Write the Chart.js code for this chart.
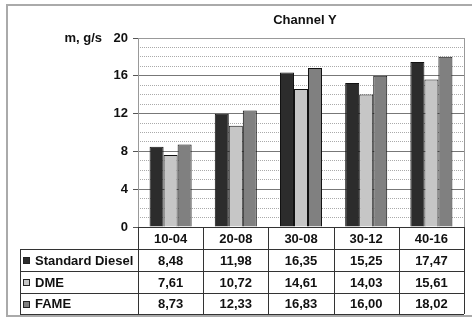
<!DOCTYPE html>
<html>
<head>
<meta charset="utf-8">
<script src="https://cdn.jsdelivr.net/npm/chart.js@4/dist/chart.umd.min.js"></script>
<style>
  html, body { margin: 0; padding: 0; background: #fff; }
</style>
</head>
<body>
<canvas id="chart" width="472" height="320"></canvas>
<script>
// data
const categories = ["10-04", "20-08", "30-08", "30-12", "40-16"];
const seriesNames = ["Standard Diesel", "DME", "FAME"];
const diesel = [8.48, 11.98, 16.35, 15.25, 17.47];
const dme = [7.61, 10.72, 14.61, 14.03, 15.61];
const fame = [8.73, 12.33, 16.83, 16.0, 18.02];
const yMax = 20;
const yStep = 4;

const colors = ["#2c2c2c", "#c6c6c6", "#808080"];
const FONT = "Liberation Sans, Arial, sans-serif";

// title, axis label, frame and data table under the plot
const tablePlugin = {
  id: "dataTable",
  afterDraw(chart) {
    const ctx = chart.ctx;
    const area = chart.chartArea;
    const xs = chart.scales.x;
    const colW = (area.right - area.left) / categories.length;
    const rows = [area.bottom, 249, 271, 293, 314];
    const tableLeft = 20;
    const series = [diesel, dme, fame];

    ctx.save();
    // outer frame
    ctx.strokeStyle = "#aaa";
    ctx.lineWidth = 2;
    ctx.strokeRect(7, 5, 470, 311);

    // plot border
    ctx.strokeStyle = "#999";
    ctx.lineWidth = 1;
    ctx.strokeRect(area.left + 0.5, area.top + 0.5, area.right - area.left, area.bottom - area.top);

    ctx.fillStyle = "#111";
    ctx.font = "bold 13px " + FONT;
    ctx.textBaseline = "middle";
    ctx.textAlign = "center";
    ctx.fillText("Channel Y", (area.left + area.right) / 2 + 4, 20);
    ctx.textAlign = "right";
    ctx.fillText("m, g/s", 102, area.top);

    // table lines
    ctx.strokeStyle = "#333";
    ctx.lineWidth = 1;
    ctx.beginPath();
    ctx.moveTo(area.left, rows[0] + 0.5);
    ctx.lineTo(area.right, rows[0] + 0.5);
    for (let r = 1; r < rows.length; r++) {
      ctx.moveTo(tableLeft, rows[r] + 0.5);
      ctx.lineTo(area.right, rows[r] + 0.5);
    }
    ctx.moveTo(tableLeft + 0.5, rows[1]);
    ctx.lineTo(tableLeft + 0.5, rows[4]);
    for (let i = 0; i <= categories.length; i++) {
      const x = Math.round(area.left + i * colW) + 0.5;
      ctx.moveTo(x, rows[0]);
      ctx.lineTo(x, rows[4]);
    }
    ctx.stroke();

    // header row
    ctx.textAlign = "center";
    categories.forEach((c, i) => {
      ctx.fillText(c, xs.getPixelForValue(i), (rows[0] + rows[1]) / 2 + 1);
    });

    // series rows
    seriesNames.forEach((name, s) => {
      const yMid = (rows[s + 1] + rows[s + 2]) / 2 + 1;
      ctx.fillStyle = colors[s];
      ctx.fillRect(23, Math.round(yMid) - 4, 7, 7);
      ctx.strokeStyle = "#222";
      ctx.strokeRect(23.5, Math.round(yMid) - 3.5, 6, 6);
      ctx.fillStyle = "#111";
      ctx.textAlign = "left";
      ctx.fillText(name, 35, yMid);
      ctx.textAlign = "center";
      series[s].forEach((v, i) => {
        ctx.fillText(v.toFixed(2).replace(".", ","), xs.getPixelForValue(i), yMid);
      });
    });
    ctx.restore();
  }
};

new Chart(document.getElementById("chart"), {
  type: "bar",
  data: {
    labels: categories,
    datasets: [diesel, dme, fame].map((d, i) => ({
      label: seriesNames[i],
      data: d,
      backgroundColor: colors[i],
      borderColor: "#111",
      borderWidth: 1,
      borderSkipped: "bottom",
      categoryPercentage: 0.645,
      barPercentage: 1.0,
    })),
  },
  options: {
    responsive: false,
    animation: false,
    layout: { padding: { top: 38, bottom: 93, left: 0, right: 8 } },
    plugins: {
      legend: { display: false },
      tooltip: { enabled: false },
    },
    scales: {
      x: { display: false },
      y: {
        position: "left",
        min: 0,
        max: yMax,
        afterFit(scale) { scale.width = 138; },
        ticks: {
          stepSize: yStep,
          color: "#111",
          padding: 5,
          font: { family: FONT, size: 13, weight: "bold" },
        },
        grid: {
          color: (c) => (c.tick && c.tick.value === 0 ? "#333" : "#777"),
          tickColor: "#555",
          tickLength: 5,
        },
        border: { color: "#555" },
      },
      yMinor: {
        position: "left",
        min: 0,
        max: yMax,
        afterFit(scale) { scale.width = 0; },
        ticks: { display: false, stepSize: 1 },
        grid: {
          drawTicks: false,
          color: (c) => (c.tick && c.tick.value % yStep === 0 ? "rgba(0,0,0,0)" : "#aaa"),
        },
        border: { display: false, dash: [1, 1] },
      },
    },
  },
  plugins: [tablePlugin],
});
</script>
</body>
</html>
